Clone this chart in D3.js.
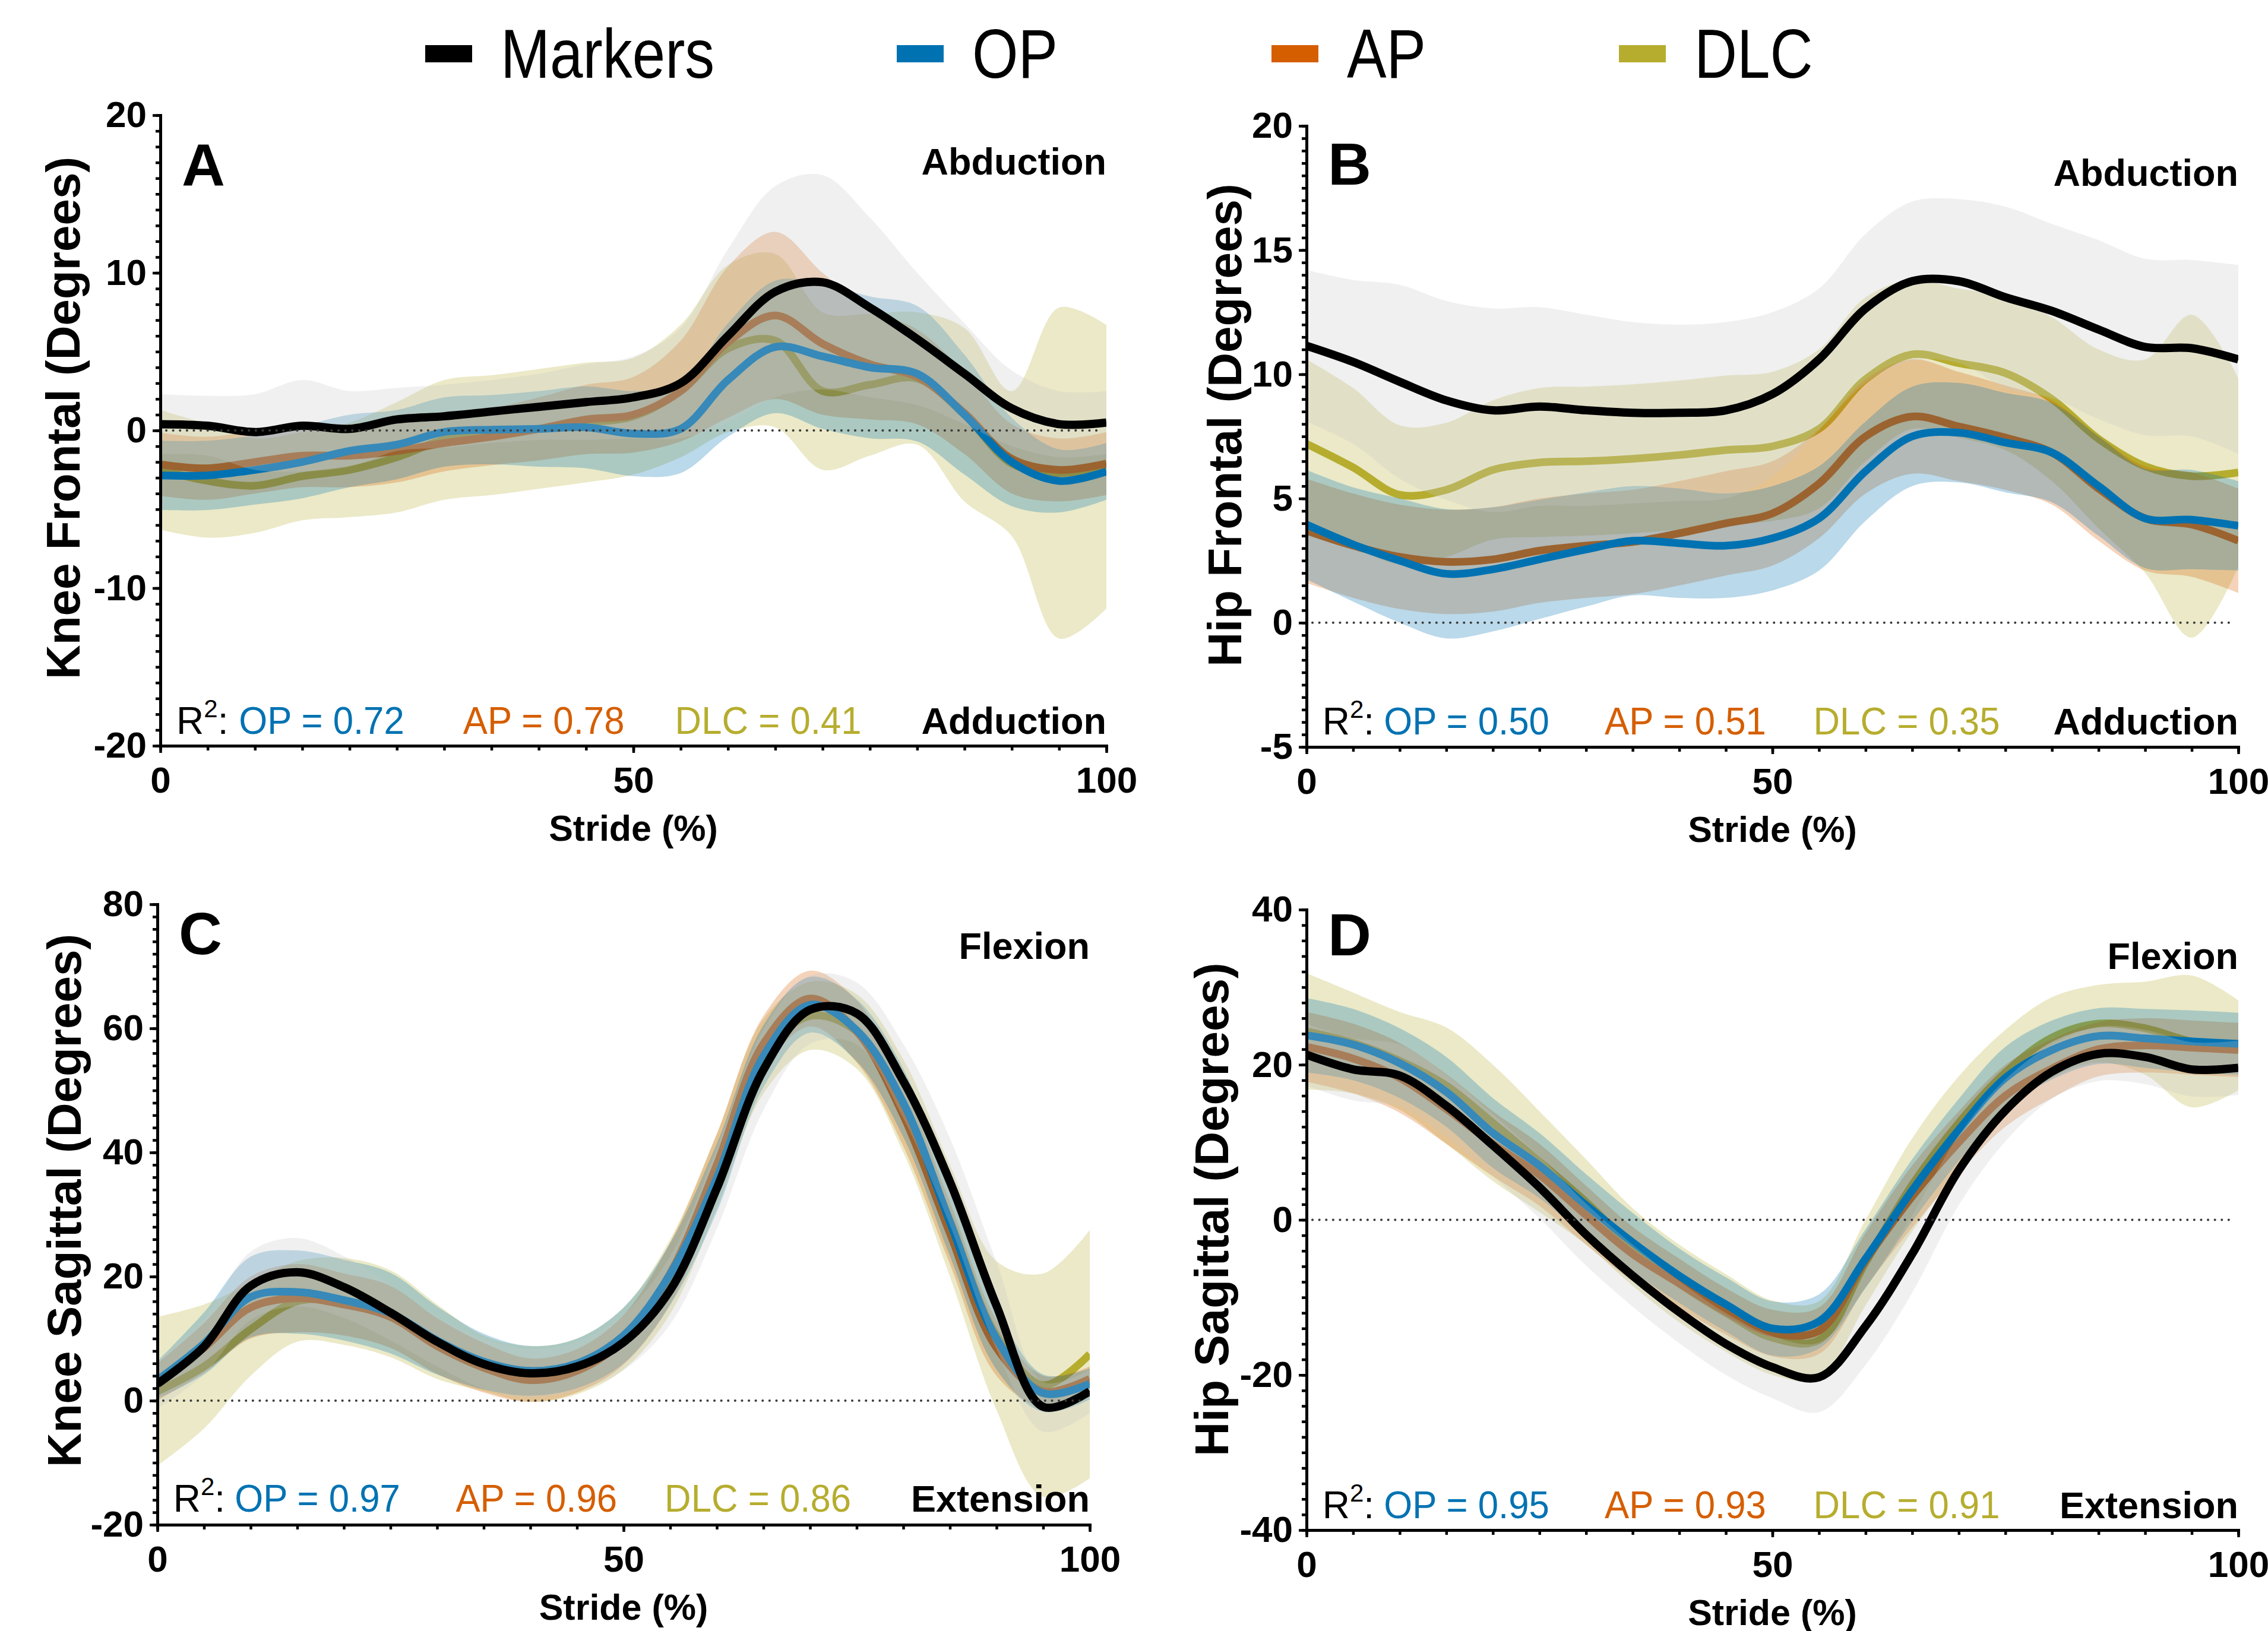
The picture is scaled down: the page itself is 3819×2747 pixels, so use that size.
<!DOCTYPE html>
<html>
<head>
<meta charset="utf-8">
<script src="https://cdn.jsdelivr.net/npm/d3@7"></script>
<style>
    body { margin: 0; background: #fff; }
    svg text { font-family: "Liberation Sans", Arial, Helvetica, sans-serif; fill: #000; }
</style>
</head>
<body>
<div id="canvas"></div>
<script>
// DATA (stride %, mean and SD per system)
const stride = [0, 5, 10, 15, 20, 25, 30, 35, 40, 45, 50, 55, 60, 65, 70, 75, 80, 85, 90, 95, 100];

const seriesNames = ["Markers", "OP", "AP", "DLC"];
const seriesColors = ["#000000", "#0072b2", "#d55e00", "#b6ad2f"];
const bandColors = ["#c8c8c8", "#0072b2", "#d55e00", "#b6ad2f"];

// A - knee frontal
const kfMarkers = [0.4, 0.3, -0.1, 0.3, 0.1, 0.7, 0.9, 1.2, 1.5, 1.8, 2.1, 3.0, 6.0, 8.8, 9.4, 7.8, 5.8, 3.6, 1.4, 0.4, 0.5];
const kfMarkersSD = [1.9, 1.9, 2.4, 2.9, 2.4, 2.0, 2.0, 2.0, 2.1, 2.4, 2.6, 3.5, 5.5, 6.7, 6.8, 5.7, 4.2, 3.2, 2.4, 2.1, 2.0];
const kfOP = [-2.85, -2.85, -2.5, -2.0, -1.3, -0.9, -0.1, 0.05, 0.1, 0.2, -0.2, 0.1, 3.2, 5.3, 4.7, 4.0, 3.6, 1.0, -2.0, -3.2, -2.6];
const kfOPSD = [2.2, 2.2, 2.2, 2.3, 2.3, 2.2, 2.2, 2.2, 2.4, 2.6, 2.7, 2.8, 3.6, 4.2, 4.6, 4.5, 4.3, 3.8, 2.8, 2.0, 1.8];
const kfAP = [-2.15, -2.4, -2.0, -1.6, -1.6, -1.3, -0.8, -0.4, 0.1, 0.7, 1.0, 2.5, 5.6, 7.3, 5.5, 4.2, 3.4, 1.1, -1.8, -2.5, -2.1];
const kfAPSD = [2.0, 2.0, 2.0, 2.0, 2.0, 2.0, 1.8, 1.8, 2.0, 2.2, 2.4, 3.2, 4.8, 5.3, 4.5, 3.5, 3.0, 2.6, 2.2, 2.0, 2.0];
const kfDLC = [-2.5, -3.2, -3.5, -2.9, -2.5, -1.7, -0.6, -0.3, 0.1, 0.5, 0.9, 2.5, 5.2, 5.7, 2.5, 2.9, 3.3, 1.0, -2.1, -2.7, -2.3];
const kfDLCSD = [3.8, 3.6, 3.0, 2.8, 3.0, 3.5, 3.8, 3.8, 3.8, 3.8, 3.7, 4.2, 5.3, 5.5, 5.0, 4.5, 4.2, 5.5, 4.6, 10.5, 9.0];
const kfR2 = ["0.72", "0.78", "0.41"];

// B - hip frontal
const hfMarkers = [11.15, 10.5, 9.7, 8.95, 8.55, 8.7, 8.55, 8.45, 8.45, 8.55, 9.2, 10.6, 12.65, 13.75, 13.75, 13.1, 12.55, 11.8, 11.1, 11.05, 10.6];
const hfMarkersSD = [3.05, 3.3, 3.9, 4.0, 4.1, 4.0, 3.85, 3.65, 3.55, 3.55, 3.3, 2.85, 3.0, 3.2, 3.3, 3.65, 3.5, 3.6, 3.55, 3.55, 3.8];
const hfOP = [3.95, 3.15, 2.5, 1.97, 2.15, 2.55, 2.95, 3.3, 3.2, 3.1, 3.4, 4.2, 6.1, 7.5, 7.65, 7.25, 6.85, 5.5, 4.2, 4.15, 3.9];
const hfOPSD = [2.2, 2.3, 2.5, 2.6, 2.5, 2.4, 2.3, 2.2, 2.2, 2.1, 2.1, 2.1, 2.0, 2.0, 2.0, 2.0, 2.0, 2.0, 2.0, 2.0, 1.8];
const hfAP = [3.7, 3.1, 2.65, 2.45, 2.55, 2.9, 3.1, 3.25, 3.6, 4.0, 4.4, 5.6, 7.5, 8.3, 7.9, 7.45, 6.85, 5.4, 4.2, 3.95, 3.3];
const hfAPSD = [2.1, 2.1, 2.1, 2.1, 2.1, 2.1, 2.1, 2.1, 2.1, 2.1, 2.1, 2.2, 2.3, 2.3, 2.2, 2.1, 2.1, 2.1, 2.1, 2.1, 2.1];
const hfDLC = [7.2, 6.25, 5.15, 5.35, 6.15, 6.45, 6.5, 6.6, 6.75, 6.95, 7.1, 7.8, 9.8, 10.8, 10.45, 10.05, 9.0, 7.4, 6.3, 5.9, 6.05];
const hfDLCSD = [3.4, 3.2, 2.8, 2.7, 2.8, 3.0, 3.0, 3.0, 3.0, 3.0, 3.0, 3.2, 3.3, 3.0, 3.0, 3.1, 3.3, 3.6, 4.3, 6.5, 3.8];
const hfR2 = ["0.50", "0.51", "0.35"];

// C - knee sagittal
const ksMarkers = [2.7, 8.7, 18.5, 20.7, 18.3, 14.2, 9.5, 5.9, 4.4, 5.5, 9.4, 17.8, 34.2, 53.3, 63.0, 62.4, 51.5, 35.3, 15.3, -1.0, 1.5];
const ksMarkersSD = [4, 4.5, 5.5, 5.5, 5, 4.5, 4, 4, 4, 4, 4.5, 5.5, 6.5, 6.5, 5.5, 5, 6, 7, 7, 4, 3.5];
const ksOP = [3.3, 9.2, 16.7, 17.5, 16.2, 14.1, 9.7, 6.3, 4.8, 6.0, 10.5, 20.4, 35.9, 55.5, 63.8, 59.7, 48.0, 28.8, 10.0, 1.2, 2.7];
const ksOPSD = [3, 5, 6.5, 6.7, 6.5, 6.5, 5.5, 4.5, 4, 4, 4.5, 5, 5.5, 5, 4.5, 5, 5.5, 5.5, 5, 3, 2.5];
const ksAP = [3.0, 8.5, 15.0, 16.5, 15.5, 13.5, 8.8, 5.3, 3.3, 4.8, 9.8, 20.5, 38.0, 57.5, 64.8, 59.5, 46.0, 27.0, 8.5, 1.5, 3.5];
const ksAPSD = [3, 4, 5, 5.5, 5, 5, 4.5, 4, 3.5, 3.5, 4, 5, 5, 4.5, 4.5, 5, 5, 5, 4.5, 2.5, 2];
const ksDLC = [1.5, 5.5, 11.5, 16.0, 16.0, 14.0, 9.5, 6.0, 4.3, 5.5, 10.0, 20.0, 37.0, 55.5, 62.0, 59.5, 47.5, 29.0, 10.5, 2.5, 7.5];
const ksDLCSD = [12, 10, 7.5, 6.5, 7, 7, 6, 4.5, 4.5, 4.5, 5, 6, 6, 6, 5.5, 6, 7.5, 9, 12, 18, 20];
const ksR2 = ["0.97", "0.96", "0.86"];

// D - hip sagittal
const hsMarkers = [21.3, 19.4, 18.6, 14.7, 9.6, 4.2, -1.9, -7.2, -11.9, -16.0, -19.0, -20.3, -13.7, -4.4, 6.4, 14.1, 19.1, 21.4, 21.0, 19.4, 19.6];
const hsMarkersSD = [4, 4, 4, 4, 4, 4, 4, 4, 4, 4, 4, 4.5, 5, 5, 4.5, 4, 3.5, 3.5, 3.5, 3.5, 3.5];
const hsOP = [23.8, 22.6, 20.2, 16.5, 11.2, 7.0, 1.9, -2.9, -7.2, -10.9, -14.0, -13.1, -5.0, 3.8, 11.6, 18.3, 21.9, 23.7, 23.4, 23.0, 22.7];
const hsOPSD = [4.8, 4.6, 4.5, 4.5, 4.5, 4.2, 4, 3.8, 3.5, 3.5, 3.5, 3.5, 3.8, 4, 4, 4, 3.8, 3.6, 3.8, 4, 4];
const hsAP = [22.3, 20.8, 18.3, 14.3, 9.8, 5.8, 0.6, -4.4, -8.2, -11.8, -14.6, -14.3, -5.2, 3.0, 10.0, 16.0, 19.5, 22.0, 22.5, 22.2, 21.9];
const hsAPSD = [4.5, 4.5, 4.5, 4.5, 4.2, 4, 3.8, 3.5, 3.2, 3, 3, 3, 3.5, 4, 4, 4, 3.8, 3.5, 3.5, 3.5, 3.5];
const hsDLC = [24.3, 22.8, 20.5, 17.3, 12.5, 7.5, 2.3, -3.5, -8.2, -12.0, -15.2, -15.5, -5.5, 4.5, 12.5, 19.0, 23.5, 25.3, 24.7, 23.0, 22.5];
const hsDLCSD = [7.5, 6.5, 6.3, 7.5, 7.5, 6.5, 5.5, 5, 5, 5, 4.8, 5, 5.5, 6, 6, 5.5, 5.2, 5, 6, 8.5, 5.8];
const hsR2 = ["0.95", "0.93", "0.91"];

// DIMENSIONS
const width = 3819;
const height = 2747;

// PANELS (layout + which arrays go where)
const panels = [
    { letter: "A", yLabel: "Knee Frontal (Degrees)", topText: "Abduction", bottomText: "Adduction",
      means: [kfMarkers, kfOP, kfAP, kfDLC], sds: [kfMarkersSD, kfOPSD, kfAPSD, kfDLCSD], r2: kfR2,
      yDomain: [-20, 20], yStep: 10,
      left: 270, right: 1863, top: 194, bottom: 1256,
      labelX: 134, labelY: 704, letterY: 313, topY: 294, bottomY: 1236 },
    { letter: "B", yLabel: "Hip Frontal (Degrees)", topText: "Abduction", bottomText: "Adduction",
      means: [hfMarkers, hfOP, hfAP, hfDLC], sds: [hfMarkersSD, hfOPSD, hfAPSD, hfDLCSD], r2: hfR2,
      yDomain: [-5, 20], yStep: 5,
      left: 2200, right: 3769, top: 212, bottom: 1258,
      labelX: 2090, labelY: 716, letterY: 311, topY: 313, bottomY: 1237 },
    { letter: "C", yLabel: "Knee Sagittal (Degrees)", topText: "Flexion", bottomText: "Extension",
      means: [ksMarkers, ksOP, ksAP, ksDLC], sds: [ksMarkersSD, ksOPSD, ksAPSD, ksDLCSD], r2: ksR2,
      yDomain: [-20, 80], yStep: 20,
      left: 265, right: 1835, top: 1523, bottom: 2568,
      labelX: 136, labelY: 2022, letterY: 1607, topY: 1615, bottomY: 2546 },
    { letter: "D", yLabel: "Hip Sagittal (Degrees)", topText: "Flexion", bottomText: "Extension",
      means: [hsMarkers, hsOP, hsAP, hsDLC], sds: [hsMarkersSD, hsOPSD, hsAPSD, hsDLCSD], r2: hsR2,
      yDomain: [-40, 40], yStep: 20,
      left: 2200, right: 3769, top: 1532, bottom: 2577,
      labelX: 2068, labelY: 2037, letterY: 1609, topY: 1632, bottomY: 2557 }
];

// CANVAS
const canvas = d3.select("#canvas")
    .append("svg")
    .attr("width", width)
    .attr("height", height)
    .style("background", "#fff");

// LEGEND
const legendX = [716, 1510, 2141, 2726];
const legend = canvas.append("g");
seriesNames.forEach((name, i) => {
    legend.append("rect")
        .attr("x", legendX[i]).attr("y", 76)
        .attr("width", 79).attr("height", 29)
        .attr("fill", seriesColors[i]);
    legend.append("text")
        .attr("transform", `translate(${legendX[i] + 127}, 131) scale(0.86, 1)`)
        .style("font-size", "116px")
        .text(name);
});

const drawOrder = [3, 2, 1, 0];

panels.forEach((p, pi) => {
    const g = canvas.append("g");

    let xScale = d3.scaleLinear().domain([0, 100]).range([p.left, p.right]);
    let yScale = d3.scaleLinear().domain(p.yDomain).range([p.bottom, p.top]);

    const clipId = "clip" + pi;
    g.append("clipPath").attr("id", clipId)
        .append("rect")
        .attr("x", p.left).attr("y", p.top)
        .attr("width", p.right - p.left).attr("height", p.bottom - p.top);

    const plot = g.append("g").attr("clip-path", `url(#${clipId})`);

    let makeLine = d3.line()
        .x(d => xScale(d.s))
        .y(d => yScale(d.m))
        .curve(d3.curveCatmullRom.alpha(0.5));

    let makeBand = d3.area()
        .x(d => xScale(d.s))
        .y0(d => yScale(d.m - d.sd))
        .y1(d => yScale(d.m + d.sd))
        .curve(d3.curveCatmullRom.alpha(0.5));

    // BANDS AND LINES (later series cover earlier lines)
    drawOrder.forEach(k => {
        const rows = stride.map((s, i) => ({ s: s, m: p.means[k][i], sd: p.sds[k][i] }));
        plot.append("path")
            .attr("d", makeBand(rows))
            .style("fill", bandColors[k])
            .style("fill-opacity", 0.27)
            .style("stroke", "none");
        plot.append("path")
            .attr("d", makeLine(rows))
            .style("fill", "none")
            .style("stroke", seriesColors[k])
            .style("stroke-width", k == 0 ? 14 : 13)
            .style("stroke-linejoin", "round");
    });

    // ZERO LINE
    g.append("line")
        .attr("x1", p.left + 10).attr("x2", p.right - 6)
        .attr("y1", yScale(0)).attr("y2", yScale(0))
        .style("stroke", "#3a3a3a")
        .style("stroke-width", 4)
        .style("stroke-linecap", "round")
        .style("stroke-dasharray", "0.1 11.5");

    // AXES
    const yMajor = d3.range(p.yDomain[0], p.yDomain[1] + 0.001, p.yStep);
    const yMinor = d3.range(p.yDomain[0], p.yDomain[1] + 0.001, p.yStep / 10);

    let yAxMinor = d3.axisLeft(yScale).tickValues(yMinor).tickSize(8).tickSizeOuter(0).tickFormat("");
    let yAxMajor = d3.axisLeft(yScale).tickValues(yMajor).tickSize(13).tickSizeOuter(0)
        .tickPadding(10).tickFormat(d => String(d));
    let xAxMinor = d3.axisBottom(xScale).tickValues(d3.range(0, 101, 5)).tickSize(8).tickSizeOuter(0).tickFormat("");
    let xAxMajor = d3.axisBottom(xScale).tickValues([0, 50, 100]).tickSize(12).tickSizeOuter(0)
        .tickPadding(23).tickFormat(d => String(d));

    const axes = g.append("g").attr("class", "axes");
    axes.append("g").attr("transform", `translate(${p.left}, 0)`).call(yAxMinor);
    axes.append("g").attr("transform", `translate(${p.left}, 0)`).call(yAxMajor);
    axes.append("g").attr("transform", `translate(0, ${p.bottom})`).call(xAxMinor);
    axes.append("g").attr("transform", `translate(0, ${p.bottom})`).call(xAxMajor);

    axes.selectAll(".domain")
        .style("stroke", "#000")
        .style("stroke-width", 5)
        .style("stroke-linecap", "square");
    axes.selectAll(".tick line")
        .style("stroke", "#000")
        .style("stroke-width", 4.5);
    axes.selectAll(".tick text")
        .style("font-size", "62px")
        .style("font-weight", "bold")
        .style("font-family", "'Liberation Sans', Arial, sans-serif")
        .attr("fill", "#000");

    // LABELS
    g.append("text")
        .attr("transform", `translate(${p.labelX}, ${p.labelY}) rotate(-90)`)
        .attr("text-anchor", "middle")
        .style("font-size", "80px")
        .style("font-weight", "bold")
        .text(p.yLabel);

    g.append("text")
        .attr("x", (p.left + p.right) / 2)
        .attr("y", p.bottom + 160)
        .attr("text-anchor", "middle")
        .style("font-size", "61px")
        .style("font-weight", "bold")
        .text("Stride (%)");

    g.append("text")
        .attr("x", p.left + 36)
        .attr("y", p.letterY)
        .style("font-size", "101px")
        .style("font-weight", "bold")
        .text(p.letter);

    g.append("text")
        .attr("x", p.right)
        .attr("y", p.topY)
        .attr("text-anchor", "end")
        .style("font-size", "63px")
        .style("font-weight", "bold")
        .text(p.topText);

    g.append("text")
        .attr("x", p.right)
        .attr("y", p.bottomY)
        .attr("text-anchor", "end")
        .style("font-size", "63px")
        .style("font-weight", "bold")
        .text(p.bottomText);

    // R SQUARED
    const w = p.right - p.left;
    const r2 = g.append("text")
        .attr("x", p.left + w * 0.017)
        .attr("y", p.bottomY)
        .style("font-size", "64px");
    r2.append("tspan").text("R");
    r2.append("tspan").attr("dy", -28).style("font-size", "42px").text("2");
    r2.append("tspan").attr("dy", 28).text(":");

    const r2Pos = [0.083, 0.320, 0.544];
    ["OP", "AP", "DLC"].forEach((nm, j) => {
        g.append("text")
            .attr("transform", `translate(${p.left + w * r2Pos[j]}, ${p.bottomY}) scale(0.95, 1)`)
            .style("font-size", "65px")
            .style("fill", seriesColors[j + 1])
            .text(`${nm} = ${p.r2[j]}`);
    });
});
</script>
</body>
</html>
